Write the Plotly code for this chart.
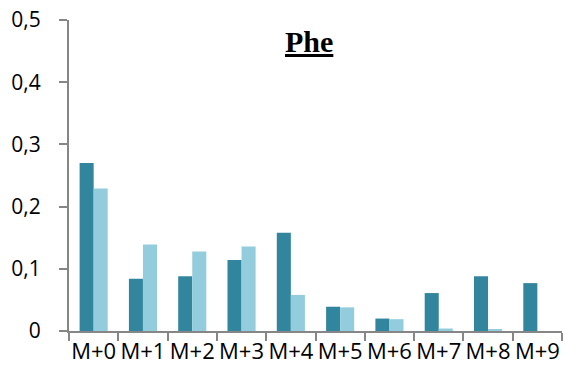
import plotly.graph_objects as go

categories = ["M+0", "M+1", "M+2", "M+3", "M+4", "M+5", "M+6", "M+7", "M+8", "M+9"]
series_a = [0.270, 0.084, 0.088, 0.114, 0.158, 0.039, 0.020, 0.061, 0.088, 0.077]
series_b = [0.229, 0.139, 0.128, 0.136, 0.058, 0.038, 0.019, 0.004, 0.002, 0.0]
y_ticks = [0, 0.1, 0.2, 0.3, 0.4, 0.5]

fig = go.Figure()
fig.add_trace(go.Bar(x=categories, y=series_a, marker=dict(color="#31859C", line=dict(width=0))))
fig.add_trace(go.Bar(x=categories, y=series_b, marker=dict(color="#93CDDD", line=dict(width=0))))

fig.update_layout(
    width=565, height=383,
    margin=dict(l=69, r=3, t=20, b=52),
    paper_bgcolor="white", plot_bgcolor="white",
    showlegend=False,
    barmode="group", bargap=0.43, bargroupgap=0,
    separators=", ",
    font=dict(family="Open Sans, Liberation Sans, sans-serif", size=21, color="black"),
    annotations=[dict(text="<b><u>Phe</u></b>", x=0.487, y=0.932, xref="paper", yref="paper",
                      xanchor="center", yanchor="middle",
                      showarrow=False, font=dict(family="Liberation Serif, Times New Roman, serif", size=30, color="black"))],
)
fig.update_xaxes(showline=True, linecolor="#868686", linewidth=2, ticks="outside", tickson="boundaries",
                 ticklen=8, tickcolor="#868686", tickwidth=2, showgrid=False, range=[-0.5, 9.5],
                 tickfont=dict(size=22), automargin=False, tickangle=0, ticklabeloverflow="allow")
fig.update_yaxes(range=[0, 0.5], tickvals=y_ticks, tickformat=",.1~f", showline=True, linecolor="#868686",
                 linewidth=2, ticks="outside", ticklen=8, tickcolor="#868686", tickwidth=2,
                 showgrid=False, zeroline=False, tickfont=dict(size=21), ticklabelstandoff=14,
                 automargin=False, ticklabeloverflow="allow")

fig.write_html("out.html", config={"displayModeBar": False},
               post_script="document.body.style.margin='0';")
